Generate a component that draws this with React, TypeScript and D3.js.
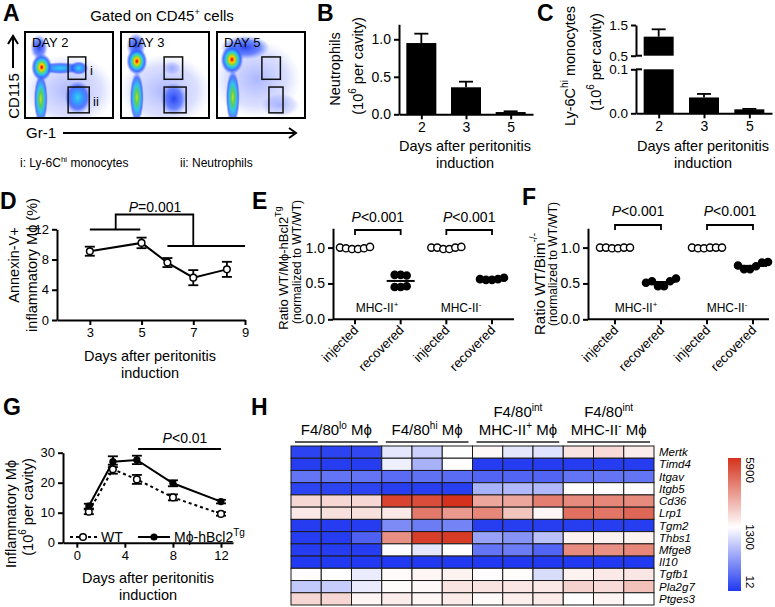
import React, { useRef, useEffect } from 'react';
import * as d3 from 'd3';

const FONT = "'Liberation Sans', Arial, Helvetica, sans-serif";

// ---------- A: flow plots (Gr-1 %, CD115 %, spread x, spread y, density) ----------
const flowDays = ['DAY 2', 'DAY 3', 'DAY 5'];
const flowBlobs: [number, number, number, number, string][][] = [
  [
    [50, 32, 52, 42, 'haze'],
    [16, 82, 10, 15, 'blue'],
    [40, 58, 25, 7, 'cyan'],
    [61, 58, 11, 8, 'cyan'],
    [60, 24, 15, 19, 'cyan'],
    [18, 22, 8, 30, 'green'],
    [19, 59, 12, 16, 'hot'],
  ],
  [
    [50, 32, 52, 42, 'haze'],
    [17, 84, 11, 15, 'blue'],
    [58, 58, 10, 8, 'haze'],
    [60, 22, 15, 19, 'blue'],
    [18, 24, 8, 30, 'green'],
    [18, 66, 12, 16, 'hot'],
  ],
  [
    [45, 45, 50, 45, 'haze'],
    [32, 82, 28, 14, 'blue'],
    [72, 15, 22, 14, 'haze'],
    [18, 24, 8, 32, 'green'],
    [17, 68, 13, 17, 'hot'],
  ],
];
// gates: [x0, x1, y0, y1] in %
const flowGates = [
  [[49, 69, 45, 71], [49, 73, 6, 36]],
  [[49, 70, 45, 71], [49, 74, 6, 36]],
  [[51, 72, 45, 71], [59, 75, 6, 36]],
];

// ---------- B ----------
const bDays = ['2', '3', '5'];
const bMean = [0.95, 0.36, 0.03];
const bErr = [0.125, 0.075, 0.01];

// ---------- C ----------
const cDays = ['2', '3', '5'];
const cMean = [1.12, 0.036, 0.009];
const cErr = [0.24, 0.008, 0.001];

// ---------- D ----------
const dDays = [3, 5, 6, 7, 8.3];
const dMean = [9.1, 10.2, 7.6, 5.6, 6.7];
const dErr = [0.6, 0.7, 0.6, 1.0, 1.0];

// ---------- E / F ----------
const efCats = ['injected', 'recovered', 'injected ', 'recovered '];
const eVals = [
  [1.0, 0.99, 0.98, 0.98, 0.99, 1.01],
  [0.62, 0.62, 0.61, 0.45, 0.45, 0.46],
  [1.0, 1.0, 0.98, 0.98, 1.0, 1.01],
  [0.56, 0.55, 0.55, 0.56, 0.58],
];
const fVals = [
  [1.0, 1.0, 0.99, 0.99, 1.0, 1.0],
  [0.51, 0.53, 0.46, 0.46, 0.53, 0.57],
  [1.0, 0.99, 0.99, 1.0, 1.0, 1.0],
  [0.75, 0.7, 0.7, 0.74, 0.79, 0.8],
];

// ---------- G ----------
const gDays = [1, 3, 5, 8, 12];
const gWT = [10.3, 24.5, 21.1, 15.1, 9.6];
const gWTErr = [0.8, 1.5, 1.5, 1.0, 0.6];
const gTg = [12.2, 27, 27.6, 19.8, 13.7];
const gTgErr = [0.8, 1.8, 1.4, 1.0, 0.6];

// ---------- H ----------
const hGenes = ['Mertk', 'Timd4', 'Itgav', 'Itgb5', 'Cd36', 'Lrp1', 'Tgm2', 'Thbs1', 'Mfge8', 'Il10', 'Tgfb1', 'Pla2g7', 'Ptges3'];
const hValues = [
  [80, 80, 110, 1150, 1000, 1320, 1450, 1150, 1120, 1900, 2100, 1700],
  [40, 40, 40, 1200, 800, 1320, 40, 40, 40, 40, 40, 40],
  [400, 400, 400, 350, 380, 350, 300, 300, 300, 400, 400, 400],
  [80, 80, 80, 60, 60, 60, 800, 850, 850, 1350, 1350, 1350],
  [2200, 2200, 2200, 5500, 5300, 5900, 3300, 3300, 4200, 3900, 4000, 3900],
  [1800, 2000, 2000, 1800, 4300, 3600, 4000, 2600, 1500, 4500, 4400, 4700],
  [40, 40, 40, 550, 450, 500, 50, 50, 50, 50, 50, 50],
  [40, 40, 280, 3800, 5600, 5700, 700, 600, 900, 1600, 1600, 1600],
  [40, 40, 40, 1280, 1150, 1300, 400, 450, 300, 3900, 3800, 4000],
  [20, 20, 20, 20, 20, 20, 20, 20, 20, 20, 20, 20],
  [1350, 1330, 1180, 1400, 1500, 1600, 1350, 1380, 1080, 1600, 1800, 1850],
  [950, 970, 1180, 1380, 1450, 1900, 1900, 1850, 1800, 2300, 2100, 2700],
  [2200, 2200, 1500, 1700, 1500, 1750, 1400, 1650, 1750, 1320, 1550, 1320],
];
const hScaleTicks = [12, 1300, 5900];

type AxisProps = {
  scale: any;
  orient: 'left' | 'bottom';
  x?: number;
  y?: number;
  tickValues?: any[];
  format?: (d: any) => string;
  fontSize?: number;
};

function Axis({ scale, orient, x = 0, y = 0, tickValues, format, fontSize = 14 }: AxisProps) {
  const ref = useRef<SVGGElement>(null);
  useEffect(() => {
    const ax = orient === 'left' ? d3.axisLeft(scale) : d3.axisBottom(scale);
    if (tickValues) ax.tickValues(tickValues);
    if (format) ax.tickFormat(format);
    ax.tickSizeInner(5).tickSizeOuter(0).tickPadding(3);
    const g = d3.select(ref.current!);
    g.call(ax as any);
    g.attr('font-family', FONT).attr('font-size', fontSize);
    g.select('.domain').attr('stroke-width', 2).attr('stroke', '#000');
    g.selectAll('.tick line').attr('stroke-width', 2).attr('stroke', '#000');
    g.selectAll('.tick text').attr('fill', '#000');
  }, [scale, orient, tickValues, format, fontSize]);
  return <g ref={ref} transform={`translate(${x},${y})`} />;
}

const f1 = d3.format('.1f');

function Letter({ x, y, t }: { x: number; y: number; t: string }) {
  return <text x={x} y={y} fontSize={23} fontWeight="bold">{t}</text>;
}

function ErrBar({ x, y0, y1, w = 6 }: { x: number; y0: number; y1: number; w?: number }) {
  return (
    <g stroke="#000" strokeWidth={1.8}>
      <line x1={x} x2={x} y1={y0} y2={y1} />
      <line x1={x - w} x2={x + w} y1={y1} y2={y1} />
    </g>
  );
}

function XTitle({ cx, y }: { cx: number; y: number }) {
  return (
    <text textAnchor="middle" fontSize={14.5}>
      <tspan x={cx} y={y}>Days after peritonitis</tspan>
      <tspan x={cx} y={y + 17}>induction</tspan>
    </text>
  );
}

function PanelA() {
  const boxes = [25, 121, 217];
  return (
    <g>
      <Letter x={3} y={21} t="A" />
      <text x={162} y={21} fontSize={15} textAnchor="middle">
        Gated on CD45<tspan dy={-6} fontSize={9}>+</tspan><tspan dy={6}> cells</tspan>
      </text>
      {boxes.map((bx, di) => {
        const x = d3.scaleLinear().domain([0, 100]).range([bx, bx + 88]);
        const y = d3.scaleLinear().domain([0, 100]).range([118, 32]);
        return (
          <g key={di}>
            <clipPath id={`clipA${di}`}><rect x={bx} y={32} width={88} height={86} /></clipPath>
            <rect x={bx} y={32} width={88} height={86} fill="#fff" />
            <g clipPath={`url(#clipA${di})`}>
              {flowBlobs[di].map((b, i) => (
                <ellipse key={i} cx={x(b[0])} cy={y(b[1])} rx={x(b[2]) - x(0)} ry={y(0) - y(b[3])} fill={`url(#fl-${b[4]})`} />
              ))}
            </g>
            {flowGates[di].map((gt, i) => (
              <rect key={i} x={x(gt[0])} y={y(gt[3])} width={x(gt[1]) - x(gt[0])} height={y(gt[2]) - y(gt[3])} fill="none" stroke="#111" strokeWidth={1.5} />
            ))}
            <rect x={bx} y={32} width={88} height={86} fill="none" stroke="#000" strokeWidth={2} />
            <text x={bx + 7} y={47} fontSize={13}>{flowDays[di]}</text>
          </g>
        );
      })}
      <text x={90} y={75} fontSize={13}>i</text>
      <text x={93} y={106} fontSize={13}>ii</text>
      {/* CD115 arrow */}
      <text transform="translate(13,96) rotate(-90)" textAnchor="middle" dominantBaseline="central" fontSize={15}>CD115</text>
      <line x1={13} x2={13} y1={68} y2={38} stroke="#000" strokeWidth={2} />
      <path d="M8,44 L13,36 L18,44" fill="none" stroke="#000" strokeWidth={2} />
      {/* Gr-1 arrow */}
      <text x={26} y={138} fontSize={15}>Gr-1</text>
      <line x1={63} x2={295} y1={133} y2={133} stroke="#000" strokeWidth={2} />
      <path d="M289,128 L296,133 L289,138" fill="none" stroke="#000" strokeWidth={2} />
      <text x={20} y={167} fontSize={12}>
        i: Ly-6C<tspan dy={-5} fontSize={8}>hi</tspan><tspan dy={5}> monocytes</tspan>
      </text>
      <text x={180} y={167} fontSize={12}>ii: Neutrophils</text>
    </g>
  );
}

function PanelB() {
  const x = d3.scalePoint<string>().domain(bDays).range([399, 533]).padding(0.5);
  const y = d3.scaleLinear().domain([0, 1.2]).range([114.3, 24.3]);
  return (
    <g>
      <Letter x={317} y={21} t="B" />
      {bDays.map((d, i) => (
        <g key={d}>
          <ErrBar x={x(d)!} y0={y(bMean[i])} y1={y(bMean[i] + bErr[i])} w={7} />
          <rect x={x(d)! - 15} y={y(bMean[i])} width={30} height={y(0) - y(bMean[i])} fill="#000" />
        </g>
      ))}
      <Axis scale={y} orient="left" x={399} tickValues={[0, 0.5, 1.0]} format={f1} />
      <Axis scale={x} orient="bottom" y={114.3} />
      <text transform="translate(335,69) rotate(-90)" textAnchor="middle" dominantBaseline="central" fontSize={14.5}>Neutrophils</text>
      <text transform="translate(358,66) rotate(-90)" textAnchor="middle" dominantBaseline="central" fontSize={14.5}>
        (10<tspan dy={-6} fontSize={10}>6</tspan><tspan dy={6}> per cavity)</tspan>
      </text>
      <XTitle cx={465} y={151} />
    </g>
  );
}

function PanelC() {
  const x = d3.scalePoint<string>().domain(cDays).range([636, 772]).padding(0.5);
  const yU = d3.scaleLinear().domain([0.5, 1.5]).range([55.7, 25]);
  const yL = d3.scaleLinear().domain([0, 0.1]).range([113.3, 69.3]);
  return (
    <g>
      <Letter x={537} y={21} t="C" />
      {cDays.map((d, i) => {
        const cx = x(d)!;
        if (cMean[i] > 0.1) {
          return (
            <g key={d}>
              <ErrBar x={cx} y0={yU(cMean[i])} y1={yU(cMean[i] + cErr[i])} w={7} />
              <rect x={cx - 15} y={yU(cMean[i])} width={30} height={yU(0.5) - yU(cMean[i])} fill="#000" />
              <rect x={cx - 15} y={yL(0.1)} width={30} height={yL(0) - yL(0.1)} fill="#000" />
            </g>
          );
        }
        return (
          <g key={d}>
            <ErrBar x={cx} y0={yL(cMean[i])} y1={yL(cMean[i] + cErr[i])} w={7} />
            <rect x={cx - 15} y={yL(cMean[i])} width={30} height={yL(0) - yL(cMean[i])} fill="#000" />
          </g>
        );
      })}
      <Axis scale={yU} orient="left" x={636} tickValues={[0.5, 1.5]} format={f1} fontSize={13.5} />
      <Axis scale={yL} orient="left" x={636} tickValues={[0, 0.1]} format={f1} fontSize={13.5} />
      <line x1={636} x2={642} y1={yU(0.5)} y2={yU(0.5)} stroke="#000" strokeWidth={2} />
      <line x1={636} x2={642} y1={yL(0.1)} y2={yL(0.1)} stroke="#000" strokeWidth={2} />
      <Axis scale={x} orient="bottom" y={113.3} />
      <text transform="translate(570,66) rotate(-90)" textAnchor="middle" dominantBaseline="central" fontSize={14.5}>
        Ly-6C<tspan dy={-6} fontSize={10}>hi</tspan><tspan dy={6}> monocytes</tspan>
      </text>
      <text transform="translate(596,62) rotate(-90)" textAnchor="middle" dominantBaseline="central" fontSize={14.5}>
        (10<tspan dy={-6} fontSize={10}>6</tspan><tspan dy={6}> per cavity)</tspan>
      </text>
      <XTitle cx={703} y={151} />
    </g>
  );
}

function PanelD() {
  const x = d3.scaleLinear().domain([1.73, 9]).range([57, 245]);
  const y = d3.scaleLinear().domain([0, 12]).range([320, 229.3]);
  const line = d3.line<number>().x((_, i) => x(dDays[i])).y((d) => y(d));
  return (
    <g>
      <Letter x={0} y={209} t="D" />
      <path d={line(dMean)!} fill="none" stroke="#000" strokeWidth={2} />
      {dDays.map((d, i) => (
        <g key={i}>
          <ErrBar x={x(d)} y0={y(dMean[i] - dErr[i])} y1={y(dMean[i] + dErr[i])} w={5} />
          <line x1={x(d) - 5} x2={x(d) + 5} y1={y(dMean[i] - dErr[i])} y2={y(dMean[i] - dErr[i])} stroke="#000" strokeWidth={1.8} />
          <circle cx={x(d)} cy={y(dMean[i])} r={3.3} fill="#fff" stroke="#000" strokeWidth={1.5} />
        </g>
      ))}
      <Axis scale={y} orient="left" x={57} tickValues={[0, 4, 8, 12]} fontSize={13} />
      <Axis scale={x} orient="bottom" y={320} tickValues={[3, 5, 7, 9]} fontSize={13} />
      {/* P bracket */}
      <g stroke="#000" strokeWidth={1.8} fill="none">
        <line x1={x(3)} x2={x(4.95)} y1={229.5} y2={229.5} />
        <line x1={x(6)} x2={x(9)} y1={246} y2={246} />
        <path d={`M${x(4)},229.5 V214.5 H${x(7)} V246`} />
      </g>
      <text x={155} y={212} textAnchor="middle" fontSize={14}>
        <tspan fontStyle="italic">P</tspan>=0.001
      </text>
      <text transform="translate(14,265) rotate(-90)" textAnchor="middle" dominantBaseline="central" fontSize={14.5}>Annexin-V+</text>
      <text transform="translate(32,265) rotate(-90)" textAnchor="middle" dominantBaseline="central" fontSize={14.5}>inflammatory Mϕ (%)</text>
      <XTitle cx={150} y={361} />
    </g>
  );
}

function spread(vals: number[], gap: number) {
  // keep array order, spread close values side by side
  const order = vals.map((v, i) => i).sort((a, b) => vals[a] - vals[b]);
  const groups: number[][] = [];
  order.forEach((i) => {
    const g = groups[groups.length - 1];
    if (g && vals[i] - vals[g[g.length - 1]] <= 0.06) g.push(i);
    else groups.push([i]);
  });
  const off = new Array(vals.length).fill(0);
  groups.forEach((g) => {
    const s = [...g].sort((a, b) => a - b);
    s.forEach((idx, k) => { off[idx] = (k - (s.length - 1) / 2) * gap; });
  });
  return off;
}

function ScatterPanel({ vals, ax, cats, letter, lx, ly, title, label1, pY, pTextY, mhc }: any) {
  const x = d3.scalePoint<string>().domain(efCats).range(cats);
  const y = d3.scaleLinear().domain([0, 1.27]).range([319.3, 319.3 - 1.27 * 71.7]);
  return (
    <g>
      <Letter x={lx} y={ly} t={letter} />
      {efCats.map((c, ci) => {
        const off = spread(vals[ci], 6);
        const med = d3.median(vals[ci])!;
        const filled = ci % 2 === 1;
        return (
          <g key={c}>
            <line x1={x(c)! - 14} x2={x(c)! + 14} y1={y(med)} y2={y(med)} stroke="#000" strokeWidth={2} />
            {vals[ci].map((v: number, i: number) => (
              <circle key={i} cx={x(c)! + off[i]} cy={y(v)} r={3.6} fill={filled ? '#000' : '#fff'} stroke="#000" strokeWidth={1.4} />
            ))}
          </g>
        );
      })}
      <Axis scale={y} orient="left" x={ax} tickValues={[0, 0.5, 1.0]} format={f1} fontSize={14} />
      <line x1={ax} x2={ax + 181} y1={319.3} y2={319.3} stroke="#000" strokeWidth={2} />
      {efCats.map((c) => (
        <g key={c}>
          <line x1={x(c)} x2={x(c)} y1={319.3} y2={324.3} stroke="#000" strokeWidth={2} />
          <text transform={`translate(${x(c)! + 4},${331}) rotate(-45)`} textAnchor="end" fontSize={13}>{c.trim()}</text>
        </g>
      ))}
      {[0, 2].map((k) => {
        const x1 = x(efCats[k])!;
        const x2 = x(efCats[k + 1])!;
        return (
          <g key={k}>
            <path d={`M${x1},${pY + 5} V${pY} H${x2} V${pY + 5}`} fill="none" stroke="#000" strokeWidth={1.8} />
            <text x={(x1 + x2) / 2} y={pTextY} textAnchor="middle" fontSize={14}>
              <tspan fontStyle="italic">P</tspan>&lt;0.001
            </text>
          </g>
        );
      })}
      <text x={mhc[0]} y={312} textAnchor="middle" fontSize={12}>
        MHC-II<tspan dy={-5} fontSize={8}>+</tspan>
      </text>
      <text x={mhc[1]} y={312} textAnchor="middle" fontSize={12}>
        MHC-II<tspan dy={-5} fontSize={8}>-</tspan>
      </text>
      {title}
      <text transform={`translate(${label1[0]},${label1[1]}) rotate(-90)`} textAnchor="middle" dominantBaseline="central" fontSize={12}>(normalized to WT/WT)</text>
    </g>
  );
}

function PanelE() {
  return (
    <ScatterPanel
      vals={eVals}
      ax={333}
      cats={[355, 492]}
      letter="E"
      lx={252}
      ly={209}
      pY={230}
      pTextY={222}
      mhc={[377, 461]}
      label1={[297, 262]}
      title={
        <text transform="translate(283,268) rotate(-90)" textAnchor="middle" dominantBaseline="central" fontSize={13}>
          Ratio WT/Mϕ-hBcl2<tspan dy={-5} fontSize={9}>Tg</tspan>
        </text>
      }
    />
  );
}

function PanelF() {
  return (
    <ScatterPanel
      vals={fVals}
      ax={588}
      cats={[615, 753]}
      letter="F"
      lx={522}
      ly={205}
      pY={225}
      pTextY={216}
      mhc={[636, 727]}
      label1={[553, 264]}
      title={
        <text transform="translate(539,284) rotate(-90)" textAnchor="middle" dominantBaseline="central" fontSize={15}>
          Ratio WT/Bim<tspan dy={-6} fontSize={10}>-/-</tspan>
        </text>
      }
    />
  );
}

function PanelG() {
  const x = d3.scaleLinear().domain([-1.15, 13]).range([63, 233]);
  const y = d3.scaleLinear().domain([0, 30]).range([542.7, 452.7]);
  const line = d3.line<number>().x((_, i) => x(gDays[i])).y((d) => y(d));
  return (
    <g>
      <Letter x={3} y={415} t="G" />
      <path d={line(gWT)!} fill="none" stroke="#000" strokeWidth={2} strokeDasharray="3,3" />
      <path d={line(gTg)!} fill="none" stroke="#000" strokeWidth={2} />
      {gDays.map((d, i) => (
        <g key={i}>
          <ErrBar x={x(d)} y0={y(gWT[i] + gWTErr[i])} y1={y(gWT[i] - gWTErr[i])} w={5} />
          <ErrBar x={x(d)} y0={y(gWT[i] - gWTErr[i])} y1={y(gWT[i] + gWTErr[i])} w={5} />
          <ErrBar x={x(d)} y0={y(gTg[i] - gTgErr[i])} y1={y(gTg[i] + gTgErr[i])} w={5} />
          <ErrBar x={x(d)} y0={y(gTg[i] + gTgErr[i])} y1={y(gTg[i] - gTgErr[i])} w={5} />
          <circle cx={x(d)} cy={y(gWT[i])} r={3.3} fill="#fff" stroke="#000" strokeWidth={1.5} />
          <circle cx={x(d)} cy={y(gTg[i])} r={3.6} fill="#000" />
        </g>
      ))}
      <Axis scale={y} orient="left" x={63} tickValues={[0, 10, 20, 30]} fontSize={13} />
      <Axis scale={x} orient="bottom" y={542.7} tickValues={[0, 4, 8, 12]} fontSize={13} />
      <line x1={x(5.1)} x2={x(12)} y1={449} y2={449} stroke="#000" strokeWidth={2} />
      <text x={185} y={443} textAnchor="middle" fontSize={14}>
        <tspan fontStyle="italic">P</tspan>&lt;0.01
      </text>
      {/* legend */}
      <line x1={70} x2={97} y1={537} y2={537} stroke="#000" strokeWidth={2} strokeDasharray="3,3" />
      <circle cx={83} cy={537} r={3.3} fill="#fff" stroke="#000" strokeWidth={1.5} />
      <text x={101} y={542} fontSize={14}>WT</text>
      <line x1={138} x2={170} y1={537} y2={537} stroke="#000" strokeWidth={2} />
      <circle cx={154} cy={537} r={3.6} fill="#000" />
      <text x={174} y={542} fontSize={14}>
        Mϕ-hBcl2<tspan dy={-6} fontSize={10}>Tg</tspan>
      </text>
      <text transform="translate(11,514) rotate(-90)" textAnchor="middle" dominantBaseline="central" fontSize={14.5}>Inflammatory Mϕ</text>
      <text transform="translate(28,507) rotate(-90)" textAnchor="middle" dominantBaseline="central" fontSize={14.5}>
        (10<tspan dy={-6} fontSize={10}>6</tspan><tspan dy={6}> per cavity)</tspan>
      </text>
      <XTitle cx={148} y={583} />
    </g>
  );
}

const BLUE = '#2038f0';
const RED = '#d4321c';

function PanelH() {
  const cols = d3.range(12);
  const x = d3.scaleBand<number>().domain(cols).range([291, 654]);
  const y = d3.scaleBand<string>().domain(hGenes).range([446, 605]);
  const color = d3.scaleLinear<string>().domain(hScaleTicks).range([BLUE, '#ffffff', RED]);
  const groups = [0, 1, 2, 3];
  const cb = d3.scaleLinear().domain([0, 1]).range([591, 458]);
  return (
    <g>
      <Letter x={251} y={415} t="H" />
      {hValues.map((row, ri) =>
        row.map((v, ci) => (
          <rect key={`${ri}-${ci}`} x={x(ci)} y={y(hGenes[ri])} width={x.bandwidth()} height={y.bandwidth()} fill={color(v)} stroke="#1a1a1a" strokeWidth={1} />
        ))
      )}
      {groups.map((g) => {
        const x0 = x(g * 3)! + 4;
        const x1 = x(g * 3 + 2)! + x.bandwidth() - 4;
        return <line key={g} x1={x0} x2={x1} y1={442} y2={442} stroke="#222" strokeWidth={1.5} />;
      })}
      {(() => {
        const c = (g: number) => (x(g * 3)! + x(g * 3 + 2)! + x.bandwidth()) / 2;
        return (
          <g fontSize={15} textAnchor="middle">
            <text x={c(0)} y={435}>F4/80<tspan dy={-6} fontSize={10}>lo</tspan><tspan dy={6}> Mϕ</tspan></text>
            <text x={c(1)} y={435}>F4/80<tspan dy={-6} fontSize={10}>hi</tspan><tspan dy={6}> Mϕ</tspan></text>
            <text x={c(2)} y={417}>F4/80<tspan dy={-6} fontSize={10}>int</tspan></text>
            <text x={c(2)} y={435}>MHC-II<tspan dy={-6} fontSize={10}>+</tspan><tspan dy={6}> Mϕ</tspan></text>
            <text x={c(3)} y={417}>F4/80<tspan dy={-6} fontSize={10}>int</tspan></text>
            <text x={c(3)} y={435}>MHC-II<tspan dy={-6} fontSize={10}>-</tspan><tspan dy={6}> Mϕ</tspan></text>
          </g>
        );
      })()}
      {hGenes.map((g) => (
        <text key={g} x={659} y={y(g)! + y.bandwidth() / 2} dominantBaseline="central" fontSize={11.5} fontStyle="italic">{g}</text>
      ))}
      <defs>
        <linearGradient id="cbar" x1="0" y1="1" x2="0" y2="0">
          <stop offset="0" stopColor={BLUE} />
          <stop offset="0.48" stopColor="#ffffff" />
          <stop offset="1" stopColor={RED} />
        </linearGradient>
      </defs>
      <rect x={728} y={cb(1)} width={13} height={cb(0) - cb(1)} fill="url(#cbar)" />
      {hScaleTicks.map((t, i) => {
        const yy = [582, 537, 470][i];
        return (
          <text key={t} transform={`translate(750,${yy}) rotate(90)`} textAnchor="middle" dominantBaseline="central" fontSize={11.5}>{t}</text>
        );
      })}
    </g>
  );
}

function FlowDefs() {
  const grads: Record<string, [number, string, number][]> = {
    hot: [[0, '#c80000', 1], [0.1, '#ff4a00', 1], [0.22, '#ffd000', 1], [0.36, '#7ad840', 1], [0.52, '#2ccbe8', 1], [0.75, '#2a5cff', 0.85], [1, '#4a6cff', 0]],
    green: [[0, '#c8e020', 1], [0.25, '#5ccc55', 1], [0.5, '#26c4e8', 0.95], [0.78, '#2a55ff', 0.75], [1, '#4a6cff', 0]],
    cyan: [[0, '#3ccfee', 1], [0.35, '#2a9cff', 0.95], [0.7, '#2a4cff', 0.7], [1, '#4a6cff', 0]],
    blue: [[0, '#2a48f0', 1], [0.6, '#3a5cff', 0.7], [1, '#5a7cff', 0]],
    haze: [[0, '#5a70ff', 0.5], [0.7, '#8090ff', 0.28], [1, '#a0b0ff', 0]],
  };
  return (
    <defs>
      {Object.entries(grads).map(([k, stops]) => (
        <radialGradient key={k} id={`fl-${k}`}>
          {stops.map((s, i) => (
            <stop key={i} offset={s[0]} stopColor={s[1]} stopOpacity={s[2]} />
          ))}
        </radialGradient>
      ))}
    </defs>
  );
}

export default function App() {
  return (
    <svg width={775} height={607} style={{ position: 'absolute', left: 0, top: 0, background: '#fff' }} fontFamily={FONT}>
      <FlowDefs />
      <PanelA />
      <PanelB />
      <PanelC />
      <PanelD />
      <PanelE />
      <PanelF />
      <PanelG />
      <PanelH />
    </svg>
  );
}
